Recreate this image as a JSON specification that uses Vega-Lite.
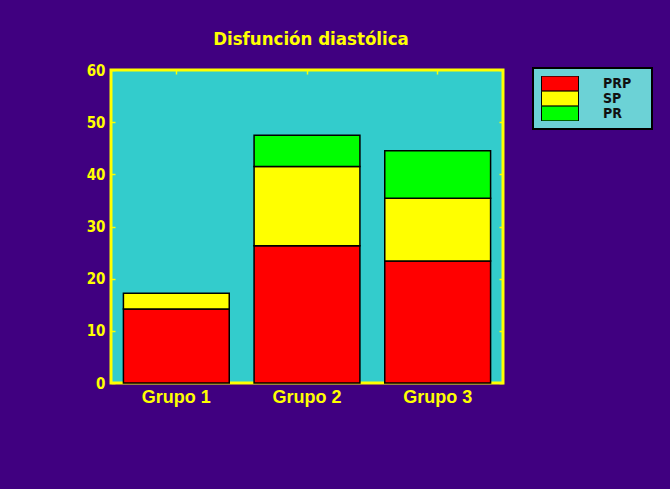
{
  "$schema": "https://vega.github.io/schema/vega-lite/v6.json",
  "autosize": {"type": "none"},
  "padding": {"left": 111, "top": 70, "right": 167, "bottom": 106},
  "width": 392,
  "height": 313,
  "background": "#400080",
  "view": {"fill": "#33CCCC", "stroke": "#FFFF00", "strokeWidth": 3},
  "title": {
    "text": "Disfunción diastólica",
    "color": "#FFFF00",
    "font": "DejaVu Sans Condensed",
    "fontSize": 18.5,
    "fontWeight": "bold",
    "anchor": "middle",
    "offset": 15,
    "dx": 4
  },
  "data": {
    "values": [
      {"grupo": "Grupo 1", "tipo": "PRP", "valor": 14.2, "orden": 1},
      {"grupo": "Grupo 1", "tipo": "SP", "valor": 3.0, "orden": 2},
      {"grupo": "Grupo 2", "tipo": "PRP", "valor": 26.3, "orden": 1},
      {"grupo": "Grupo 2", "tipo": "SP", "valor": 15.2, "orden": 2},
      {"grupo": "Grupo 2", "tipo": "PR", "valor": 6.0, "orden": 3},
      {"grupo": "Grupo 3", "tipo": "PRP", "valor": 23.4, "orden": 1},
      {"grupo": "Grupo 3", "tipo": "SP", "valor": 12.0, "orden": 2},
      {"grupo": "Grupo 3", "tipo": "PR", "valor": 9.1, "orden": 3}
    ]
  },
  "layer": [
    {
      "mark": {"type": "bar", "stroke": "#000000", "strokeWidth": 1.5},
      "encoding": {
        "x": {
          "field": "grupo",
          "type": "nominal",
          "scale": {"paddingInner": 0.19, "paddingOuter": 0.095},
          "axis": {
            "title": null,
            "orient": "bottom",
            "domain": false,
            "ticks": false,
            "labelAngle": 0,
            "labelColor": "#FFFF00",
            "labelFont": "Liberation Sans",
            "labelFontSize": 18,
            "labelFontWeight": "bold",
            "labelPadding": 5
          }
        },
        "y": {
          "field": "valor",
          "type": "quantitative",
          "aggregate": "sum",
          "stack": "zero",
          "scale": {"domain": [0, 60], "nice": false},
          "axis": {
            "title": null,
            "orient": "left",
            "values": [0, 10, 20, 30, 40, 50, 60],
            "domain": false,
            "grid": false,
            "tickColor": "#FFFF00",
            "tickSize": -4,
            "tickWidth": 1.5,
            "labelColor": "#FFFF00",
            "labelFont": "DejaVu Sans Condensed",
            "labelFontSize": 15,
            "labelFontWeight": "bold",
            "labelPadding": 10
          }
        },
        "color": {
          "field": "tipo",
          "type": "nominal",
          "scale": {"domain": ["PRP", "SP", "PR"], "range": ["#FF0000", "#FFFF00", "#00FF00"]},
          "legend": {
            "title": "PR",
            "titleOrient": "right",
            "titleColor": "transparent",
            "titleFontSize": 9,
            "titlePadding": 0,
            "orient": "none",
            "direction": "vertical",
            "columns": 1,
            "legendX": 422,
            "legendY": -2,
            "padding": 8,
            "fillColor": "#6CD2D6",
            "strokeColor": "#000000",
            "symbolType": "M-1,-0.4H1V0.4H-1Z",
            "symbolSize": 1369,
            "symbolStrokeColor": "#000000",
            "symbolStrokeWidth": 1,
            "symbolOpacity": 1,
            "clipHeight": 15,
            "rowPadding": 0,
            "labelOffset": 24,
            "labelColor": "#111111",
            "labelFont": "DejaVu Sans Condensed",
            "labelFontSize": 14,
            "labelFontWeight": "bold",
            "encode": {"legend": {"update": {"strokeWidth": {"value": 2}}}}
          }
        },
        "order": {"field": "orden", "type": "quantitative"}
      }
    },
    {
      "mark": {"type": "bar", "opacity": 0},
      "encoding": {
        "x": {
          "field": "grupo",
          "type": "nominal",
          "axis": {
            "title": null,
            "orient": "top",
            "domain": false,
            "labels": false,
            "tickColor": "#FFFF00",
            "tickSize": -4,
            "tickWidth": 1.5
          }
        },
        "y": {
          "field": "valor",
          "type": "quantitative",
          "aggregate": "sum",
          "stack": "zero",
          "axis": {
            "title": null,
            "orient": "right",
            "values": [0, 10, 20, 30, 40, 50, 60],
            "domain": false,
            "grid": false,
            "labels": false,
            "tickColor": "#FFFF00",
            "tickSize": -4,
            "tickWidth": 1.5
          }
        },
        "detail": {"field": "tipo"},
        "order": {"field": "orden", "type": "quantitative"}
      }
    }
  ],
  "resolve": {"axis": {"x": "independent", "y": "independent"}}
}
